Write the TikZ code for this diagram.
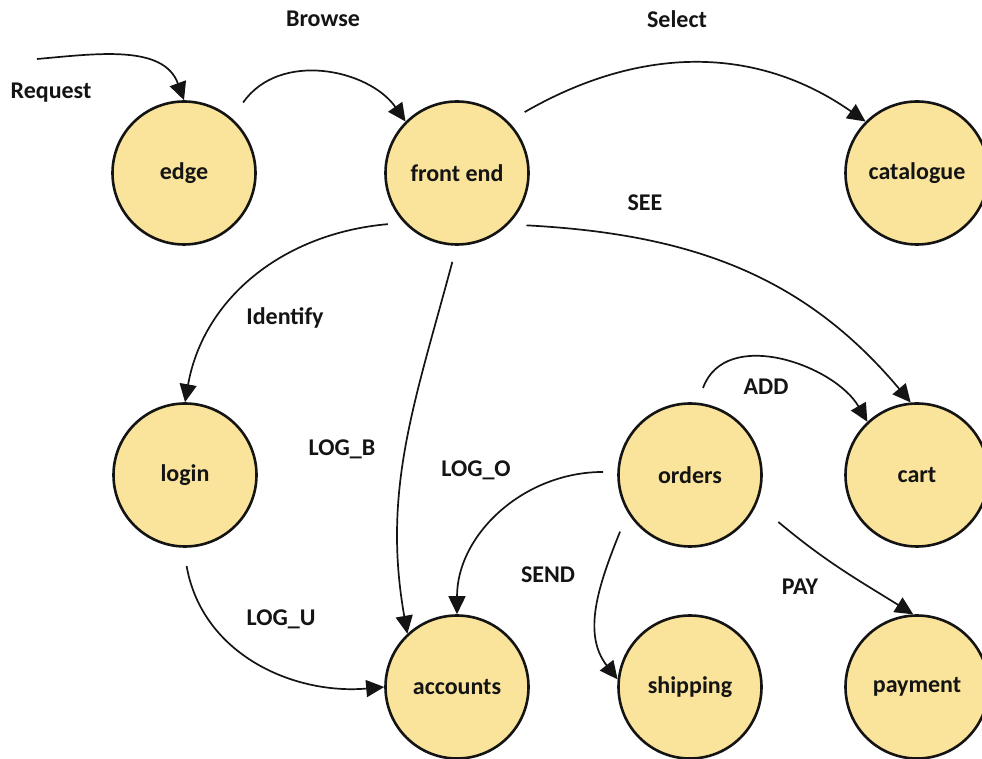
\documentclass[tikz,border=0pt]{standalone}
\usepackage{fontspec}
\setmainfont{Carlito}
\usetikzlibrary{arrows.meta,calc}
\definecolor{statefill}{RGB}{250,228,155}
\definecolor{ink}{RGB}{20,20,20}
\tikzset{
  state/.style={circle, draw=ink, fill=statefill, line width=2.6pt,
    minimum size=143pt, inner sep=0pt, font=\fontsize{24}{28}\selectfont\bfseries, text=ink},
  lbl/.style={font=\fontsize{24}{28}\selectfont\bfseries, text=ink, inner sep=0pt},
  link/.style={draw=ink, line width=1.7pt, -{Triangle[length=18pt,width=17pt]}}
}
\begin{document}
\begin{tikzpicture}[x=1pt,y=1pt]
\useasboundingbox[fill=white] (0,0) rectangle (982,758);

% states
\node[state] (edge)   at (184,585) {edge};
\node[state] (front)  at (457,585) {front end};
\node[state] (cat)    at (917,585) {catalogue};
\node[state] (login)  at (185,283) {login};
\node[state] (orders) at (690,283) {orders};
\node[state] (cart)   at (917,283) {cart};
\node[state] (acc)    at (457,71)  {accounts};
\node[state] (ship)   at (690,71)  {shipping};
\node[state] (pay)    at (917,71)  {payment};

\coordinate (req) at (37,699);

% transitions: each starts a little way off its source circle
\draw[link] (req) to[out=5,in=110] (edge.90);
\draw[link] ($(edge.center)+(50:92)$) to[out=55,in=125] (front.135);
\draw[link] ($(front.center)+(42:91)$) to[out=30,in=145] (cat.135);
\draw[link] ($(front.center)+(-37:87)$) to[out=-3,in=130] (cart.95);
\draw[link] ($(front.center)+(-143.5:86)$) to[out=185,in=80] (login.90);
\draw[link] ($(front.center)+(-93:89)$) to[out=-105,in=100] (acc.133);
\draw[link] ($(orders.center)+(178:87)$) to[out=180,in=90] (acc.90);
\draw[link] ($(login.center)+(-89:91)$) to[out=-80,in=185] (acc.180);
\draw[link] ($(orders.center)+(81.5:88)$) to[out=70,in=120] (cart.133);
\draw[link] ($(orders.center)+(-141:90)$) to[out=-112,in=128] (ship.174);
\draw[link] ($(orders.center)+(-28:100)$) to[out=-40,in=148] (pay.93);

% labels
\node[lbl] (lreq) at (51,665)  {Request};
\node[lbl] (lbro) at (323,739) {Browse};
\node[lbl] (lsel) at (677,739) {Select};
\node[lbl] (lsee) at (645,555) {SEE};
\node[lbl] (lid)  at (285,440) {Identify};
\node[lbl] (llb)  at (342,309) {LOG\_B};
\node[lbl] (llo)  at (476,288) {LOG\_O};
\node[lbl] (ladd) at (766,371) {ADD};
\node[lbl] (lsend) at (548,183) {SEND};
\node[lbl] (lpay) at (800,171) {PAY};
\node[lbl] (llu)  at (281,139) {LOG\_U};
\end{tikzpicture}
\end{document}
